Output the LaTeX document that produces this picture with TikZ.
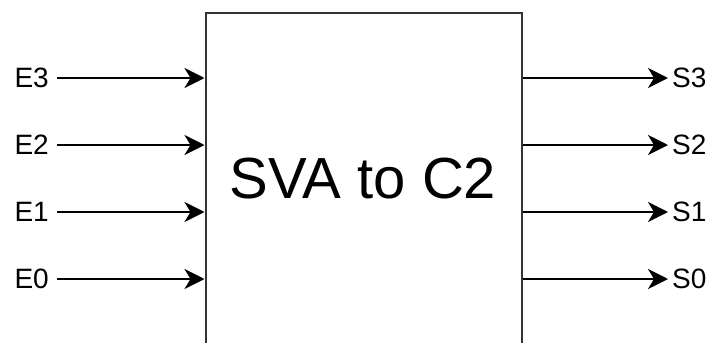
\documentclass[tikz,border=0pt]{standalone}
\usepackage{fontspec}
\setmainfont{Liberation Sans}
\usetikzlibrary{arrows.meta}
\begin{document}
\begin{tikzpicture}[x=1pt,y=-1pt,
  blockbox/.style={draw=black!80, line width=2pt, minimum width=316.5pt, minimum height=360pt, inner sep=0pt, anchor=north west},
  lbl/.style={font=\fontsize{28}{32}\selectfont, inner ysep=0pt},
  inlbl/.style={lbl, anchor=east, inner xsep=8pt},
  outlbl/.style={lbl, anchor=west, inner xsep=4pt},
  arr/.style={line width=2pt, -{Stealth[length=20pt,width=20pt,inset=6pt]}},
  title/.style={font=\fontsize{58}{64}\selectfont, inner sep=0pt}]
\useasboundingbox (0,0) rectangle (716,343);
\fill[white] (0,0) rectangle (716,343);
\node[blockbox] (box) at (204.5,12) {};
\node[title] (t) at (363,179) {SVA to C2};
\node[inlbl] (e3) at (57,78) {E3};
\node[inlbl] (e2) at (57,145) {E2};
\node[inlbl] (e1) at (57,212) {E1};
\node[inlbl] (e0) at (57,279) {E0};
\node[outlbl] (s3) at (668,78) {S3};
\node[outlbl] (s2) at (668,145) {S2};
\node[outlbl] (s1) at (668,212) {S1};
\node[outlbl] (s0) at (668,279) {S0};
\foreach \n in {e3,e2,e1,e0} \draw[arr] (\n.east) -- (\n.east -| box.west);
\foreach \n in {s3,s2,s1,s0} \draw[arr] (\n.west -| box.east) -- (\n.west);
\end{tikzpicture}
\end{document}
